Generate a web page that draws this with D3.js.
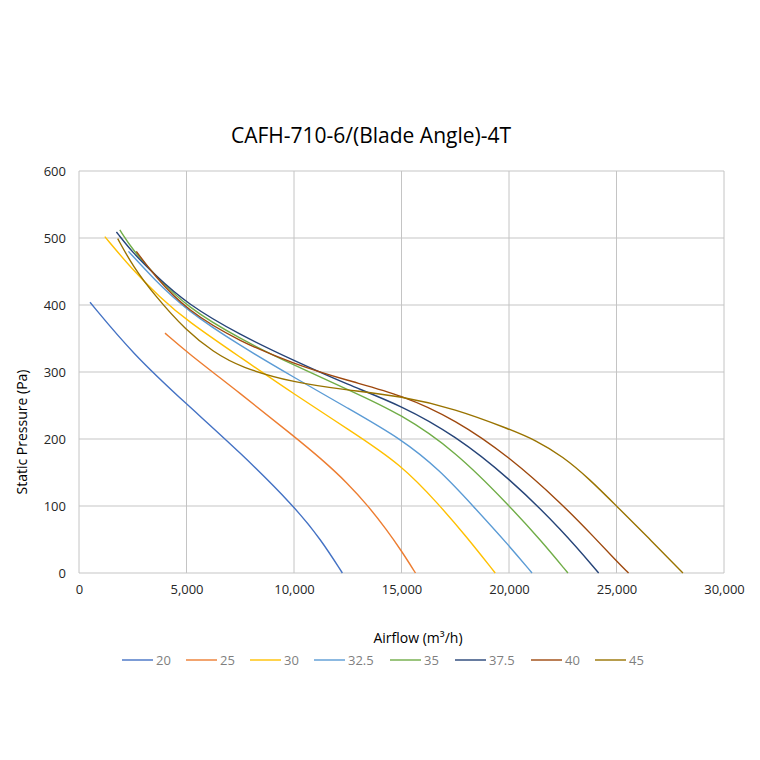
<!DOCTYPE html>
<html>
<head>
<meta charset="utf-8">
<script src="https://cdn.jsdelivr.net/npm/d3@7"></script>
<style>
  body { margin: 0; background: #fff; }
  svg { font-family: "Open Sans", sans-serif; }
</style>
</head>
<body>
<script>
// blade angle curves, [airflow m3/h, static pressure Pa]
const bladeAngles = ['20', '25', '30', '32.5', '35', '37.5', '40', '45'];
const curve20 = [[512, 404], [2500, 327], [5000, 252], [7500, 180], [10000, 100], [11250, 50], [12250, 0]];
const curve25 = [[4000, 358], [5000, 330], [7500, 268], [10000, 204], [11250, 171], [12500, 134], [13450, 100], [14300, 65], [15000, 33], [15650, 0]];
const curve30 = [[1200, 502], [2500, 452], [3750, 412], [5000, 377], [7500, 322], [10000, 267], [12500, 215], [15000, 162], [16800, 100], [18000, 55], [19360, 0]];
const curve32 = [[2300, 480], [3500, 438], [5000, 392], [7500, 339], [10000, 292], [12500, 246], [15000, 200], [16800, 153], [18300, 101], [20000, 41], [21070, 0]];
const curve35 = [[1900, 512], [2500, 482], [3500, 446], [5000, 397], [7500, 349], [10000, 310], [12500, 274], [15000, 237], [17500, 182], [20000, 101], [21500, 48], [22740, 0]];
const curve37 = [[1740, 509], [2500, 478], [3500, 446], [5000, 402], [7500, 355], [10000, 317], [12500, 281], [15000, 250], [17500, 205], [20000, 142], [22500, 63], [24170, 0]];
const curve40 = [[2665, 480], [3500, 444], [5000, 392], [7500, 345], [10000, 312], [12500, 287], [15000, 266], [17500, 229], [20000, 174], [22500, 102], [24000, 52], [25000, 18], [25560, 0]];
const curve45 = [[1800, 499], [2500, 458], [3500, 415], [5000, 361], [6250, 330], [7500, 307], [10000, 284], [12500, 273], [15000, 264], [17500, 245], [20000, 215], [21250, 198], [22500, 174], [23750, 140], [25000, 100], [26500, 52], [28090, 0]];
const xTicks = [0, 5000, 10000, 15000, 20000, 25000, 30000];
const yTicks = [0, 100, 200, 300, 400, 500, 600];

const colors = ['#4472C4', '#ED7D31', '#FFC000', '#5B9BD5', '#70AD47', '#264478', '#9E480E', '#997300'];
const series = [curve20, curve25, curve30, curve32, curve35, curve37, curve40, curve45]
  .map((values, i) => ({ name: bladeAngles[i], values, color: colors[i] }));

const width = 760;
const height = 760;

const x = d3.scaleLinear().domain([0, 30000]).range([79, 724]);
const y = d3.scaleLinear().domain([0, 600]).range([573, 171]);

const svg = d3.select('body').append('svg')
  .attr('width', width)
  .attr('height', height);

// gridlines
svg.append('g')
  .selectAll('line')
  .data(yTicks)
  .join('line')
  .attr('x1', x(0)).attr('x2', x(30000))
  .attr('y1', (d) => y(d)).attr('y2', (d) => y(d))
  .attr('stroke', '#d9d9d9')
  .attr('stroke-width', 1.3);

svg.append('g')
  .selectAll('line')
  .data(xTicks)
  .join('line')
  .attr('x1', (d) => x(d)).attr('x2', (d) => x(d))
  .attr('y1', y(0)).attr('y2', y(600))
  .attr('stroke', '#c4c4c4')
  .attr('stroke-width', 1);

// axes (labels only, Excel style)
const fmt = d3.format(',');
const xAxis = svg.append('g')
  .attr('transform', `translate(0,${y(0)})`)
  .call(d3.axisBottom(x).tickValues(xTicks).tickFormat(fmt).tickSize(0).tickPadding(12));
const yAxis = svg.append('g')
  .attr('transform', `translate(${x(0)},0)`)
  .call(d3.axisLeft(y).tickValues(yTicks).tickSize(0).tickPadding(13));
[xAxis, yAxis].forEach((a) => {
  a.select('.domain').remove();
  a.selectAll('text')
    .attr('font-family', '"Open Sans", sans-serif')
    .attr('font-size', 13)
    .attr('fill', '#262626');
});

// curves, smoothed like Excel's "smoothed line"
const line = d3.line()
  .x((d) => x(d[0]))
  .y((d) => y(d[1]))
  .curve(d3.curveBasis);

svg.append('g')
  .selectAll('path')
  .data(series)
  .join('path')
  .attr('d', (d) => line(d.values))
  .attr('fill', 'none')
  .attr('stroke', (d) => d.color)
  .attr('stroke-width', 1.4);

// titles
svg.append('text')
  .attr('x', 371).attr('y', 143)
  .attr('text-anchor', 'middle')
  .attr('font-size', 21)
  .attr('fill', '#000')
  .text('CAFH-710-6/(Blade Angle)-4T');

svg.append('text')
  .attr('x', 418).attr('y', 643)
  .attr('text-anchor', 'middle')
  .attr('font-size', 14)
  .attr('fill', '#000')
  .text('Airflow (m³/h)');

svg.append('text')
  .attr('transform', 'translate(27,432) rotate(-90)')
  .attr('text-anchor', 'middle')
  .attr('font-size', 14)
  .attr('fill', '#000')
  .text('Static Pressure (Pa)');

// legend
const legendX = [122, 186, 250, 314, 390, 455, 531, 595];
const legend = svg.append('g')
  .selectAll('g')
  .data(series)
  .join('g')
  .attr('transform', (d, i) => `translate(${legendX[i]},660)`);
legend.append('line')
  .attr('x1', 0).attr('x2', 31)
  .attr('stroke', (d) => d.color)
  .attr('stroke-width', 1.4);
legend.append('text')
  .attr('x', 34).attr('dy', '0.35em')
  .attr('font-size', 13)
  .attr('fill', '#7f7f7f')
  .text((d) => d.name);
</script>
</body>
</html>
